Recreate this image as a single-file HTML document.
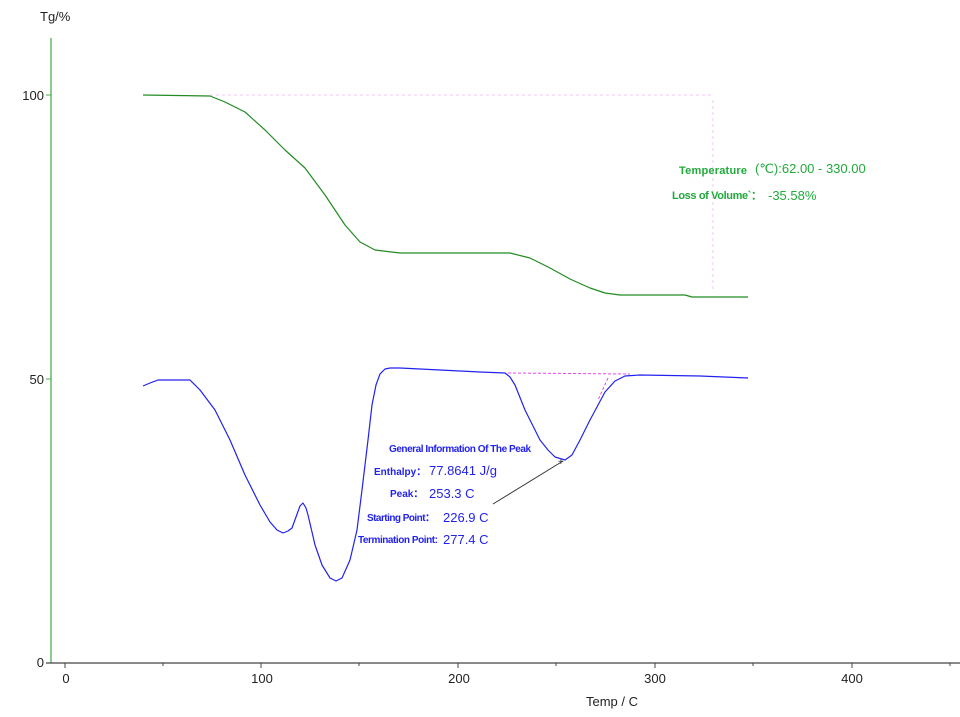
<!DOCTYPE html>
<html><head><meta charset="utf-8"><style>
html,body{margin:0;padding:0;background:#fff;}
svg{display:block;font-family:"Liberation Sans",sans-serif;}
</style></head><body>
<svg width="960" height="717" viewBox="0 0 960 717">
<rect width="960" height="717" fill="#fff"/>
<line x1="51" y1="38" x2="51" y2="663" stroke="#4caf50" stroke-width="1.3"/>
<line x1="46" y1="663" x2="960" y2="663" stroke="#444" stroke-width="1.3"/>
<line x1="46" y1="95" x2="51" y2="95" stroke="#4caf50"/>
<line x1="46" y1="379" x2="51" y2="379" stroke="#4caf50"/>
<g stroke="#444">
<line x1="65" y1="663" x2="65" y2="668"/><line x1="163" y1="663" x2="163" y2="666"/>
<line x1="261" y1="663" x2="261" y2="668"/><line x1="359" y1="663" x2="359" y2="666"/>
<line x1="458" y1="663" x2="458" y2="668"/><line x1="556" y1="663" x2="556" y2="666"/>
<line x1="655" y1="663" x2="655" y2="668"/><line x1="753" y1="663" x2="753" y2="666"/>
<line x1="852" y1="663" x2="852" y2="668"/><line x1="950" y1="663" x2="950" y2="666"/>
</g>
<g font-size="13" fill="#222">
<text x="40" y="21">Tg/%</text>
<text x="44" y="100" text-anchor="end">100</text>
<text x="44" y="384" text-anchor="end">50</text>
<text x="44" y="667" text-anchor="end">0</text>
<g text-anchor="middle">
<text x="66" y="683">0</text><text x="262" y="683">100</text><text x="459" y="683">200</text>
<text x="655" y="683">300</text><text x="852" y="683">400</text>
<text x="612" y="706">Temp / C</text></g>
</g>
<line x1="210" y1="95" x2="712" y2="95" stroke="#f6c6f6" stroke-dasharray="3,3"/>
<line x1="713" y1="100" x2="713" y2="290" stroke="#f6c6f6" stroke-dasharray="3,3"/>
<polyline fill="none" stroke="#228b22" stroke-width="1.2" stroke-linejoin="round" points="143,95 210,96 225,102 245,112 265,130 285,150 305,168 325,195 345,225 360,242 375,250 400,253 510,253 530,258 550,268 570,279 590,288 605,293 620,295 685,295 692,297 748,297"/>
<line x1="508" y1="373" x2="630" y2="374" stroke="#ee44ee" stroke-dasharray="3,2"/>
<line x1="608" y1="378" x2="598" y2="400" stroke="#ee44ee" stroke-dasharray="3,2"/>
<polyline fill="none" stroke="#2222ee" stroke-width="1.2" stroke-linejoin="round" points="143,386 150,383 158,380 190,380 200,390 215,410 230,440 245,475 260,505 270,522 277,530 283,533 288,531 292,528 296,517 300,506 303,503 306,508 308,515 312,532 315,545 322,565 330,578 336,581 342,578 350,560 357,530 362,490 368,440 372,405 376,385 380,374 385,369 390,368 400,368 480,372 505,373 510,377 515,385 525,410 540,440 548,450 555,457 565,460 572,455 580,440 590,420 605,392 615,381 625,376 640,375 700,376 748,378"/>
<line x1="493" y1="504" x2="563" y2="461" stroke="#333"/>
<text x="558" y="465" font-size="10" fill="#333">+</text>
<g fill="#1faa3a" font-size="13">
<text x="679" y="174" font-weight="bold" font-size="11" textLength="68">Temperature</text>
<text x="755" y="173">(℃):62.00 - 330.00</text>
<text x="672" y="199" font-weight="bold" font-size="11" textLength="90">Loss of Volume`：</text>
<text x="768" y="200">-35.58%</text>
</g>
<g fill="#2222ee" font-size="13">
<text x="389" y="452" font-weight="bold" font-size="10" textLength="142">General Information Of The Peak</text>
<text x="374" y="475" font-weight="bold" font-size="10">Enthalpy：</text><text x="429" y="475">77.8641 J/g</text>
<text x="390" y="497" font-weight="bold" font-size="10">Peak：</text><text x="429" y="498">253.3 C</text>
<text x="367" y="521" font-weight="bold" font-size="10" textLength="68">Starting Point：</text><text x="443" y="522">226.9 C</text>
<text x="358" y="543" font-weight="bold" font-size="10" textLength="80">Termination Point:</text><text x="443" y="544">277.4 C</text>
</g>
</svg>
</body></html>
